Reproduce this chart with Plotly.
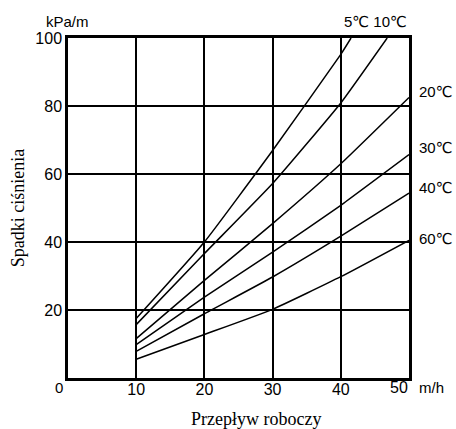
import plotly.graph_objects as go

# Data
series_names = ["5℃", "10℃", "20℃", "30℃", "40℃", "60℃"]
x_5 = [10, 20, 30, 40, 41.5]
y_5 = [17.5, 40, 66.9, 95.2, 100]
x_10 = [10, 20, 30, 40, 46.8]
y_10 = [15.7, 36.6, 57.2, 80.9, 100]
x_20 = [10, 20, 30, 40, 50]
y_20 = [11.6, 28.7, 45.4, 63, 82.5]
x_30 = [10, 20, 30, 40, 50]
y_30 = [9.85, 23.8, 37, 50.8, 65.7]
x_40 = [10, 20, 30, 40, 50]
y_40 = [7.85, 18.9, 29.7, 41.7, 54.4]
x_60 = [10, 20, 30, 40, 50]
y_60 = [5.5, 12.8, 20.2, 29.8, 40.5]

x_ticks = [10, 20, 30, 40, 50]
y_ticks = [20, 40, 60, 80, 100]

fig = go.Figure()
for name, xs, ys in zip(series_names,
                        [x_5, x_10, x_20, x_30, x_40, x_60],
                        [y_5, y_10, y_20, y_30, y_40, y_60]):
    fig.add_trace(go.Scatter(x=xs, y=ys, mode="lines", name=name,
                             line=dict(color="black", width=1.5, shape="spline", smoothing=0.4),
                             showlegend=False, hoverinfo="skip"))

tick_font = dict(family="Liberation Sans, Arial, sans-serif", size=16, color="black")
title_font = dict(family="Liberation Serif, Times New Roman, serif", size=18, color="black")

# x tick labels: the last one ("50") is nudged left as in the original, drawn as annotation
x_tick_text = [str(v) for v in x_ticks[:-1]] + [""]
fig.update_xaxes(range=[0, 50], tickvals=x_ticks, ticktext=x_tick_text,
                 showgrid=True, gridcolor="black", gridwidth=1.5,
                 showline=True, linecolor="black", linewidth=2.5, mirror=True,
                 zeroline=False, ticks="", tickfont=tick_font, automargin=False,
                 ticklabelstandoff=-5)
fig.update_yaxes(range=[0, 100], tickvals=y_ticks, ticktext=[str(v) for v in y_ticks],
                 showgrid=True, gridcolor="black", gridwidth=1.5,
                 showline=True, linecolor="black", linewidth=2.5, mirror=True,
                 zeroline=False, ticks="", tickfont=tick_font, automargin=False)

ann_font = dict(family="Liberation Sans, DejaVu Sans, sans-serif", size=15, color="black")
annotations = [
    dict(text="kPa/m", x=(44 - 68) / 341, y=(377.7 - 21) / 340, xanchor="left", yanchor="middle"),
    dict(text="5℃ 10℃", x=1.0, y=(377.7 - 21) / 340, xanchor="right", yanchor="middle"),
    dict(text="20℃", x=1.022, y=0.843, xanchor="left", yanchor="middle"),
    dict(text="30℃", x=1.022, y=0.679, xanchor="left", yanchor="middle"),
    dict(text="40℃", x=1.022, y=0.560, xanchor="left", yanchor="middle"),
    dict(text="60℃", x=1.022, y=0.410, xanchor="left", yanchor="middle"),
    dict(text="m/h", x=1.022, y=-0.027, xanchor="left", yanchor="middle"),
    dict(text="0", x=-0.027, y=-0.027, xanchor="center", yanchor="middle"),
]
anns = [dict(a, xref="paper", yref="paper", showarrow=False, font=ann_font) for a in annotations]
anns.append(dict(text=str(x_ticks[-1]), xref="x", yref="paper", x=x_ticks[-1], y=-0.027,
                 xshift=-10, showarrow=False, xanchor="center", yanchor="middle", font=tick_font))
anns.append(dict(text="Spadki ciśnienia", xref="paper", yref="paper", x=(18 - 68) / 341,
                 y=(377.7 - 208) / 340, textangle=-90, showarrow=False,
                 xanchor="center", yanchor="middle", font=title_font))
anns.append(dict(text="Przepływ roboczy", xref="paper", yref="paper", x=(256 - 68) / 341,
                 y=(377.7 - 419) / 340, showarrow=False,
                 xanchor="center", yanchor="middle", font=title_font))
fig.update_layout(
    annotations=anns,
    width=456, height=429,
    margin=dict(l=68, r=47, t=38, b=51),
    paper_bgcolor="white", plot_bgcolor="white",
)
fig.write_html("out.html", config={"displayModeBar": False},
               post_script="document.body.style.margin='0px';document.body.style.overflow='hidden';")
